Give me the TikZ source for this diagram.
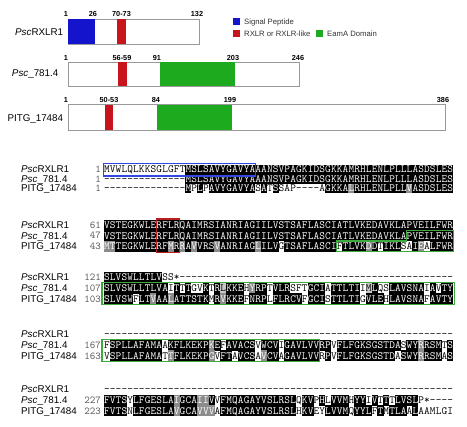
\documentclass[tikz,border=0pt]{standalone}
\usepackage{fontspec}
\setmainfont{Liberation Sans}
\definecolor{spblue}{RGB}{20,20,205}
\definecolor{rxred}{RGB}{200,20,28}
\definecolor{eamgreen}{RGB}{30,170,30}
\definecolor{boxblue}{RGB}{50,70,230}
\definecolor{boxred}{RGB}{185,30,30}
\definecolor{boxgreen}{RGB}{60,170,60}
\newcommand\seqfont{\fontsize{11}{12}\selectfont\ttfamily}
\newcount\alidx
\def\alH{5.4}
\def\alstop#1#2{}
\def\algo#1#2{\alparse#1\relax#2\relax}
\def\alparse#1#2\relax#3#4\relax{%
  \alcell{#1}{#3}%
  \global\advance\alidx by 1\relax
  \ifx\relax#2\relax\expandafter\alstop\else\expandafter\algo\fi{#2}{#4}}
\def\alrow#1#2#3{\global\alidx=0\relax\def\alY{#1}\alparse#2\relax#3\relax}
\def\alcell#1#2{%
  \pgfmathsetmacro\alx{104+5.82*\the\alidx}%
  \def\alcol{black}%
  \if#2k\fill[black] (\alx-0.15,\alY-\alH) rectangle (\alx+5.97,\alY+\alH);\def\alcol{white}\fi
  \if#2d\fill[black!45] (\alx-0.15,\alY-\alH) rectangle (\alx+5.97,\alY+\alH);\def\alcol{white}\fi
  \if#2l\fill[black!22] (\alx-0.15,\alY-\alH) rectangle (\alx+5.97,\alY+\alH);\def\alcol{black}\fi
  \node[seqch, text=\alcol] at (\alx+2.91,\alY+3.4) {#1};}
\def\rowlab#1#2#3{%
  \node[lab, anchor=base west] at (21,#1+3.4) {#2};
  \node[numlab, anchor=base east] at (101,#1+3.3) {#3};}
\begin{document}
\begin{tikzpicture}[x=1pt,y=-1pt,
  lab/.style={inner sep=0pt, font=\fontsize{9.8}{11}\selectfont},
  numlab/.style={inner sep=0pt, font=\fontsize{10.5}{11}\selectfont\ttfamily, text=black!65},
  tick/.style={inner sep=0pt, anchor=base, font=\fontsize{7.3}{9}\selectfont\bfseries},
  bar/.style={draw=black!40, line width=0.8pt, fill=white},
  legtext/.style={inner sep=0pt, anchor=base west, font=\fontsize{7.7}{9}\selectfont, text=black!80},
  seqch/.style={inner sep=0pt, anchor=base, font=\seqfont},
  alnbox/.style={line width=1.2pt}]
\fill[white] (0,0) rectangle (467,427);
\useasboundingbox (0,0) rectangle (467,427);

% ---------- domain diagrams ----------
\draw[bar] (68,19) rectangle (199,44);
\fill[spblue] (68.4,19.4) rectangle (95,43.6);
\fill[rxred] (117,19.4) rectangle (126,43.6);
\node[tick] (n11) at (66,16.7) {1};
\node[tick] (n12) at (93,16.7) {26};
\node[tick] (n13) at (121.5,16.7) {70-73};
\node[tick] (n14) at (197,16.7) {132};
\node[lab, anchor=base east] (t1) at (63.3,35.2) {\textit{Psc}RXLR1};

\draw[bar] (68,62) rectangle (299,86);
\fill[rxred] (118,62.4) rectangle (127,85.6);
\fill[eamgreen] (160,62.4) rectangle (235,85.6);
\node[tick] (n21) at (66,60.5) {1};
\node[tick] (n22) at (122,60.5) {56-59};
\node[tick] (n23) at (157,60.5) {91};
\node[tick] (n24) at (233,60.5) {203};
\node[tick] (n25) at (298,60.5) {246};
\node[lab, anchor=base east] (t2) at (58.5,77) {\textit{Psc}\_781.4};

\draw[bar] (68,104.3) rectangle (445,130);
\fill[rxred] (105,104.7) rectangle (113,129.6);
\fill[eamgreen] (157,104.7) rectangle (232,129.6);
\node[tick] (n31) at (66,102.8) {1};
\node[tick] (n32) at (109,102.8) {50-53};
\node[tick] (n33) at (156,102.8) {84};
\node[tick] (n34) at (230,102.8) {199};
\node[tick] (n35) at (443,102.8) {386};
\node[lab, anchor=base east] (t3) at (63.3,121.5) {PITG\_17484};

% legend
\fill[spblue] (233,18) rectangle (240,25);
\node[legtext] (l1) at (244,24.6) {Signal Peptide};
\fill[rxred] (233,30) rectangle (240,37);
\node[legtext] (l2) at (244,36.6) {RXLR or RXLR-like};
\fill[eamgreen] (316,30) rectangle (323,37);
\node[legtext] (l3) at (327,36.6) {EamA Domain};

% ---------- alignment ----------
% block 1
\def\alH{4.8}
\rowlab{169.5}{\textit{Psc}RXLR1}{1}
\rowlab{179.0}{\textit{Psc}\_781.4}{1}
\rowlab{188.5}{PITG\_17484}{1}
\alrow{169.5}{MVWLQLKKSG LGFTMSLSAV YGAVYAAANS VPAGKIDSGK KAMRHLENLP LLLASDSLES}{wwwwwwwwww wwwwkkkkkk kkkkkkkkkk kkkkkkkkkk kkkkkkkkkk kkkkkkkkkk}
\alrow{179.0}{---------- ----MSLSAV YGAVYAAANS VPAGKIDSGK KAMRHLENLP LLLASDSLES}{wwwwwwwwww wwwwkkkkkk kkkkkkkkkk kkkkkkkkkk kkkkkkkkkk kkkkkkkkkk}
\alrow{188.5}{---------- ----MPLPAV YGAVYASATS SAP----AGK KALRHLENLP LLVASDSLES}{wwwwwwwwww wwwwkwkwkk kkkkkkwkwk wwwwwwwwkk kkdkkkkkkk kkdkkkkkkk}
\draw[boxblue, line width=1.5pt] (103.6,163.4) rectangle (255.6,175.8);
\def\alH{5.4}

% block 2
\rowlab{225.0}{\textit{Psc}RXLR1}{61}
\rowlab{235.7}{\textit{Psc}\_781.4}{47}
\rowlab{246.4}{PITG\_17484}{43}
\alrow{225.0}{VSTEGKWLER FLRQAIMRSI ANRIAGIILV STSAFLASCI ATLVKEDAVK LAPVEILFWR}{kkkkkkkkkk kkkkkkkkkk kkkkkkkkkk kkkkkkkkkk kkkkkkkkkk kkkkkkkkkk}
\alrow{235.7}{VSTEGKWLER FLRQAIMRSI ANRIAGIILV STSAFLASCI ATLVKEDAVK LAPVEILFWR}{kkkkkkkkkk kkkkkkkkkk kkkkkkkkkk kkkkkkkkkk kkkkkkkkkk kkkkkkkkkk}
\alrow{246.4}{MTTEGKWLER FMRRAVVRSV ANRIAGLILV GTSAFLASCI FTLVKDDTIK LSAIEALFWR}{ddkkkkkkkk kdkdkdkkkd kkkkkkdkkk wkkkkkkkkk wkkkkdkwkk kwwkdwkkkk}
\draw[boxred, alnbox] (156.4,219.1) rectangle (179.7,252.3);
\draw[boxgreen, alnbox] (406.6,230.3) -- (453.5,230.3) -- (453.5,251.8) -- (336.8,251.8) -- (336.8,241.05) -- (406.6,241.05) -- cycle;

% block 3
\rowlab{277.5}{\textit{Psc}RXLR1}{121}
\rowlab{288.2}{\textit{Psc}\_781.4}{107}
\rowlab{298.9}{PITG\_17484}{103}
\alrow{277.5}{SLVSWLLTLV SS*------- ---------- ---------- ---------- ----------}{kkkkkkkkkk wwwwwwwwww wwwwwwwwww wwwwwwwwww wwwwwwwwww wwwwwwwwww}
\alrow{288.2}{SLVSWLLTLV AITTTGVKTR LKKEHYRPTV LRSFTGCIAT TLTIIMLQSL AVSNAIAVTY}{kkkkkkkkkk kwkwkwwkwk lkkkwdkkwk kkwwwkkkwk kkkkwlkwwk kkkkkwkwkk}
\alrow{298.9}{SLVSWFLTVA ALATTSTKMR VKKEFNRPLF LRCVFGCIST TLTIGVLEHL AVSNAFAVTY}{kkkkkwkkdk kdkkkkkkwk dkkkwkkkwk kkkkwkkkwk kkkkwkkkwk kkkkkwkkkk}
\draw[boxgreen, alnbox] (102,282.85) rectangle (454.5,304.3);

% block 4
\rowlab{334.5}{\textit{Psc}RXLR1}{}
\rowlab{345.2}{\textit{Psc}\_781.4}{167}
\rowlab{355.9}{PITG\_17484}{163}
\alrow{334.5}{---------- ---------- ---------- ---------- ---------- ----------}{wwwwwwwwww wwwwwwwwww wwwwwwwwww wwwwwwwwww wwwwwwwwww wwwwwwwwww}
\alrow{345.2}{FSPLLAFAMA AKFLKEKPKE FAVACSVWCV IGAVLVVRPV FLFGKSGSTD ASWYRRSMTS}{wkkkkkkkkk wkkkkkkkdk wkkkkkwkkk wkkkkkkkkw kkkkkkkkkk kwkkdkkkwk}
\alrow{355.9}{VSPLLAFAMA TTFLKEKPGV FTAVCSAVCV AGAVLVVRPV FLFGKSGSTD ASWYRRSMAS}{wkkkkkkkkk wdkkkkkkdw kkwkkkwdkk wkkkkkkwkw kkkkkkkkkk wkkkdkkkwk}
\draw[boxgreen, alnbox] (102,339.85) rectangle (319.3,361.3);

% block 5
\rowlab{389.5}{\textit{Psc}RXLR1}{}
\rowlab{400.2}{\textit{Psc}\_781.4}{227}
\rowlab{410.9}{PITG\_17484}{223}
\alrow{389.5}{---------- ---------- ---------- ---------- ---------- ----------}{wwwwwwwwww wwwwwwwwww wwwwwwwwww wwwwwwwwww wwwwwwwwww wwwwwwwwww}
\alrow{400.2}{FVTSYLFGES LAIGCAIIVV FMQAGAYVSL RSLQKVPHLV VMHYYIVTTT LVSLP*----}{kkkkwkkkkk kkdkkkddkw kkkkkkkkkk kkkwkkwkwk kkwkkwkwkw kkkkwwwwww}
\alrow{410.9}{FVTSNLFGES LAVGCAVVVA FMQAGAYVSL RSLHKVEYLV VMQYYLFTMT LAALAAMLGI}{kkkkwkkkkk kkdkkkdddw kkkkkkkkkk kkkwkkwwkk kkwkkkwkwk kkwkwwwwww}
\end{tikzpicture}
\end{document}
